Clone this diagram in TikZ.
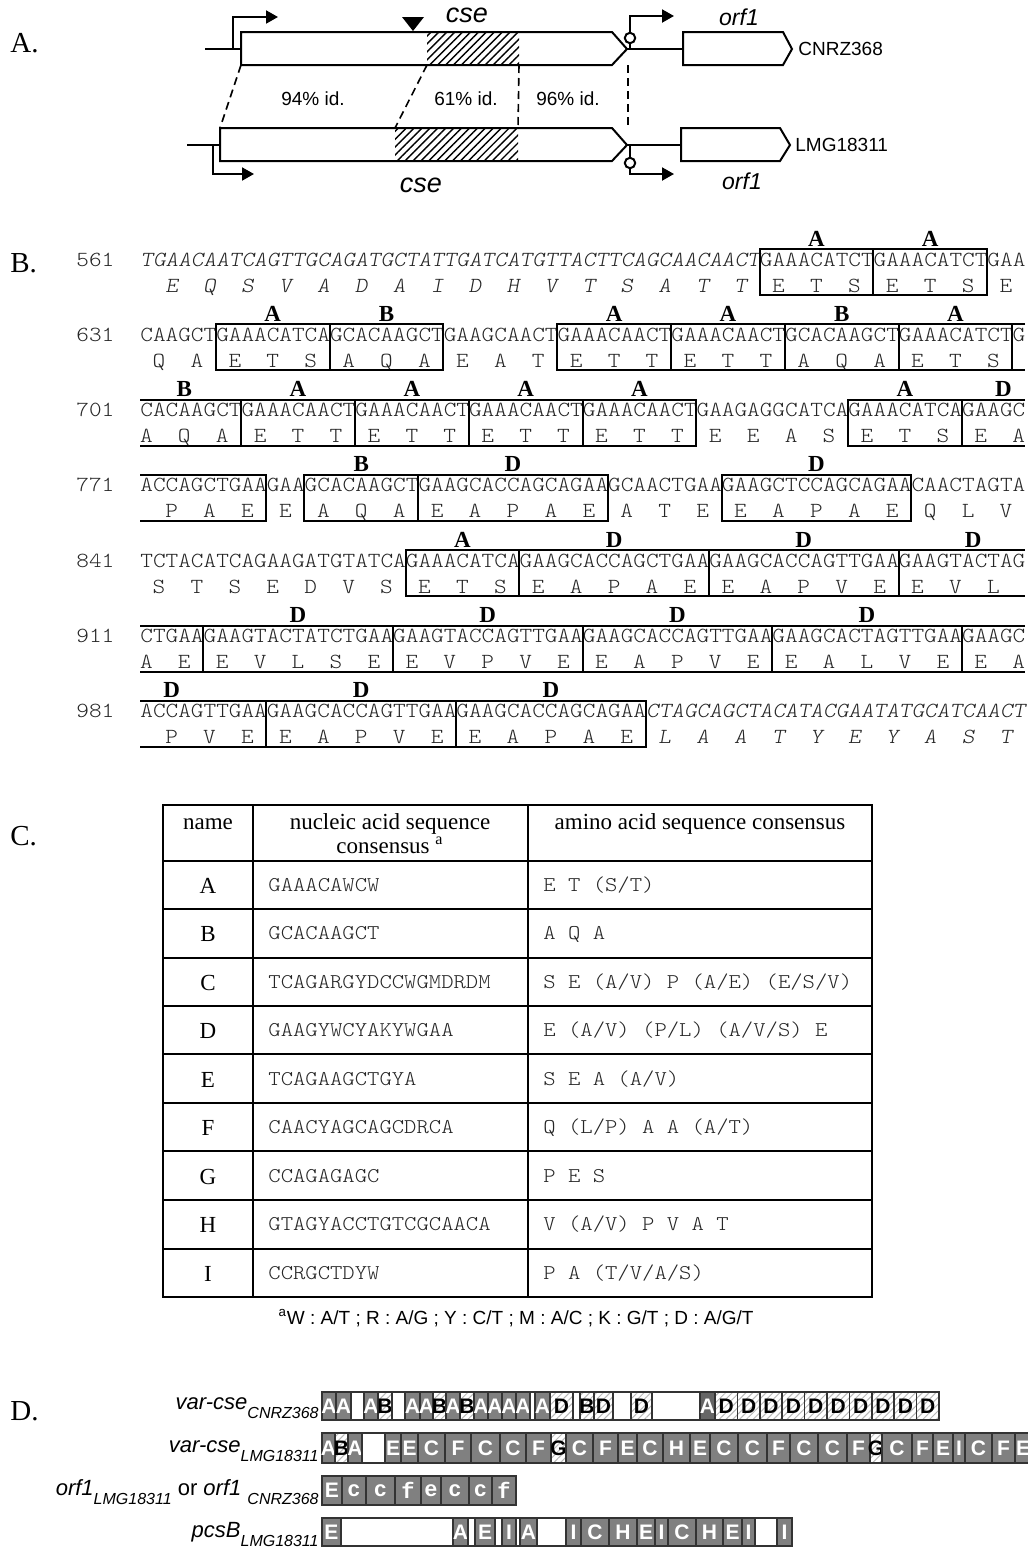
\documentclass[tikz,border=0pt]{standalone}
\usepackage{fontspec}
\setmainfont{Liberation Serif}
\setsansfont{Liberation Sans}
\setmonofont{Liberation Mono}
\newfontfamily\courfont{lmmonolt10-regular.otf}[FakeStretch=1.12,ItalicFont=lmmonolt10-oblique.otf]
\usetikzlibrary{arrows.meta,patterns.meta,calc,positioning}

\definecolor{barfill}{gray}{0.50}
\definecolor{bardark}{gray}{0.40}
\definecolor{barline}{gray}{0.20}
\definecolor{seqink}{gray}{0.15}

\newcommand\cw{12.643}
\newcommand\seqfont{\courfont\fontsize{10.75}{12}\selectfont}
\newcommand\subl[1]{\raisebox{-0.42em}{\fontsize{8}{9}\selectfont #1}}

\begin{document}
\begin{tikzpicture}[x=0.5pt,y=-0.5pt,
  gene/.style={line width=1pt},
  hatchA/.style={pattern={Lines[angle=45,distance=2.8pt,line width=0.7pt]}},
  homol/.style={line width=0.8pt,dash pattern=on 4pt off 2.5pt},
  idlab/.style={font=\sffamily\fontsize{9.5}{11}\selectfont},
  genelab/.style={font=\sffamily\itshape\fontsize{13.5}{15}\selectfont},
  orflab/.style={font=\sffamily\itshape\fontsize{11.5}{13}\selectfont},
  strain/.style={font=\sffamily\fontsize{9.5}{11}\selectfont,anchor=west,inner sep=0pt},
  panel/.style={font=\fontsize{14.5}{16}\selectfont,anchor=base west,inner sep=0pt},
  seqtxt/.style={font=\seqfont,text=seqink,anchor=base west,inner sep=0pt},
  seqit/.style={seqtxt,font=\seqfont\itshape},
  aa/.style={font=\seqfont,text=seqink,anchor=base,inner sep=0pt},
  aait/.style={aa,font=\seqfont\itshape},
  motif/.style={line width=1pt},
  motlab/.style={font=\bfseries\fontsize{11.5}{13}\selectfont,anchor=base,inner sep=0pt},
  tabline/.style={line width=1pt},
  head/.style={font=\fontsize{11.5}{13}\selectfont,anchor=base,inner sep=0pt},
  tabname/.style={font=\fontsize{11.5}{13}\selectfont,anchor=base,inner sep=0pt},
  tabmono/.style={font=\courfont\fontsize{10.5}{12}\selectfont,text=seqink,anchor=base west,inner sep=0pt},
  foot/.style={font=\sffamily\fontsize{9.5}{11}\selectfont},
  barlab/.style={font=\sffamily\itshape\fontsize{11}{13}\selectfont,anchor=base east,inner sep=0pt},
  bseg/.style={draw=barline,line width=0.8pt},
  grayseg/.style={bseg,fill=barfill,text=white},
  darkseg/.style={bseg,fill=bardark,text=white},
  hatchseg/.style={bseg,pattern={Lines[angle=45,distance=2.4pt,line width=0.5pt]},pattern color=gray!55,text=black},
  whiteseg/.style={bseg},
  bartxt/.style={font=\sffamily\bfseries\fontsize{10.5}{12}\selectfont,inner sep=0pt},
  monotxt/.style={font=\ttfamily\bfseries\fontsize{11}{12}\selectfont,inner sep=0pt,text=white}]

\fill[white] (0,0) rectangle (1028,1548);
\useasboundingbox (0,0) rectangle (1028,1548);

% ---------- A. gene maps
\node[panel] (pA) at (10,52) {A.};
% CNRZ368
\draw[gene] (205,49) -- (241,49);
\path[hatchA] (427,32) rectangle (519,65);
\draw[gene] (241,32) -- (612,32) -- (627,49) -- (612,65) -- (241,65) -- cycle;
\fill (402,17) -- (424,17) -- (413,31) -- cycle;
\draw[gene,-{Triangle[length=6pt,width=6.5pt]}] (233,49) -- (233,17) -- (278,17);
\draw[gene] (627,49) -- (683,49);
\draw[gene,-{Triangle[length=6pt,width=6.5pt]}] (630,49) -- (630,16) -- (674,16);
\draw[gene,fill=white] (630,38) circle[radius=2.6pt];
\draw[gene] (683,32) -- (783,32) -- (792,49) -- (783,65) -- (683,65) -- cycle;
\node[genelab] (cseT) at (467,15) {cse};
\node[orflab] (orfT) at (739,17) {orf1};
\node[strain] (strT) at (798,49) {CNRZ368};
% LMG18311
\draw[gene] (187,145) -- (220,145);
\path[hatchA] (395,128) rectangle (518,161);
\draw[gene] (220,128) -- (612,128) -- (627,145) -- (612,161) -- (220,161) -- cycle;
\draw[gene,-{Triangle[length=6pt,width=6.5pt]}] (213,145) -- (213,174) -- (254,174);
\draw[gene] (627,145) -- (681,145);
\draw[gene,-{Triangle[length=6pt,width=6.5pt]}] (630,145) -- (630,174) -- (674,174);
\draw[gene,fill=white] (630,163) circle[radius=2.6pt];
\draw[gene] (681,128) -- (780,128) -- (790,145) -- (780,161) -- (681,161) -- cycle;
\node[genelab] (cseB) at (421,185) {cse};
\node[orflab] (orfB) at (742,181) {orf1};
\node[strain] (strB) at (795,145) {LMG18311};
% identity
\draw[homol] (241,65) -- (220,128);
\draw[homol] (427,65) -- (395,128);
\draw[homol] (519,65) -- (518,128);
\draw[homol] (628,65) -- (628,128);
\node[idlab] (id1) at (313,99) {94\% id.};
\node[idlab] (id2) at (466,99) {61\% id.};
\node[idlab] (id3) at (568,99) {96\% id.};

% ---------- B. sequence
\node[panel] (pB) at (10,272) {B.};
\foreach \r/\n in {0/561,1/631,2/701,3/771,4/841,5/911,6/981}
  \node[seqtxt] (num\n) at (76,{266+75.3*\r}) {\n};
\node[seqit] (seq0a) at (140,266) {TGAACAATCAGTTGCAGATGCTATTGATCATGTTACTTCAGCAACAACT};
\node[seqtxt] (seq0b) at ({140+49*\cw},266) {GAAACATCTGAAACATCTGAA};
\foreach \r/\s in {1/CAAGCTGAAACATCAGCACAAGCTGAAGCAACTGAAACAACTGAAACAACTGCACAAGCTGAAACATCTG,
                   2/CACAAGCTGAAACAACTGAAACAACTGAAACAACTGAAACAACTGAAGAGGCATCAGAAACATCAGAAGC,
                   3/ACCAGCTGAAGAAGCACAAGCTGAAGCACCAGCAGAAGCAACTGAAGAAGCTCCAGCAGAACAACTAGTA,
                   4/TCTACATCAGAAGATGTATCAGAAACATCAGAAGCACCAGCTGAAGAAGCACCAGTTGAAGAAGTACTAG,
                   5/CTGAAGAAGTACTATCTGAAGAAGTACCAGTTGAAGAAGCACCAGTTGAAGAAGCACTAGTTGAAGAAGC}
  \node[seqtxt] (seq\r) at (140,{266+75.3*\r}) {\s};
\node[seqtxt] (seq6a) at (140,{266+75.3*6}) {ACCAGTTGAAGAAGCACCAGTTGAAGAAGCACCAGCAGAA};
\node[seqit] (seq6b) at ({140+40*\cw},{266+75.3*6}) {CTAGCAGCTACATACGAATATGCATCAACT};
% translation
\foreach \r/\s/\f/\lst in {0/2/aait/{E,Q,S,V,A,D,A,I,D,H,V,T,S,A,T,T},
    0/50/aa/{E,T,S,E,T,S,E},
    1/1/aa/{Q,A,E,T,S,A,Q,A,E,A,T,E,T,T,E,T,T,A,Q,A,E,T,S},
    2/0/aa/{A,Q,A,E,T,T,E,T,T,E,T,T,E,T,T,E,E,A,S,E,T,S,E,A},
    3/2/aa/{P,A,E,E,A,Q,A,E,A,P,A,E,A,T,E,E,A,P,A,E,Q,L,V},
    4/1/aa/{S,T,S,E,D,V,S,E,T,S,E,A,P,A,E,E,A,P,V,E,E,V,L},
    5/0/aa/{A,E,E,V,L,S,E,E,V,P,V,E,E,A,P,V,E,E,A,L,V,E,E,A},
    6/2/aa/{P,V,E,E,A,P,V,E,E,A,P,A,E},
    6/41/aait/{L,A,A,T,Y,E,Y,A,S,T}}
  \foreach \l [count=\i from 0] in \lst
    \node[\f] (aa\r-\s-\i) at ({140+(\s+3*\i+0.5)*\cw},{292+75.3*\r}) {\l};
% repeat boxes
\foreach \r/\a/\b in {0/49/58,0/58/67,1/6/15,1/15/24,1/33/42,1/42/51,1/51/60,1/60/69,
    2/8/17,2/17/26,2/26/35,2/35/44,2/56/65,3/13/22,3/22/37,3/46/61,
    4/21/30,4/30/45,4/45/60,5/5/20,5/20/35,5/35/50,5/50/65,6/10/25,6/25/40}
  \draw[motif] ({140+\a*\cw},{249+75.3*\r}) rectangle ({140+\b*\cw},{295+75.3*\r});
\foreach \r/\b in {2/8,3/10,5/5,6/10}
  \draw[motif] (140,{249+75.3*\r}) -- ({140+\b*\cw},{249+75.3*\r})
    -- ({140+\b*\cw},{295+75.3*\r}) -- (140,{295+75.3*\r});
\foreach \r/\a in {1/69,2/65,4/60,5/65}
  \draw[motif] (1025,{249+75.3*\r}) -- ({140+\a*\cw},{249+75.3*\r})
    -- ({140+\a*\cw},{295+75.3*\r}) -- (1025,{295+75.3*\r});
\foreach \r/\p/\m [count=\k] in {0/53.5/A,0/62.5/A,
    1/10.5/A,1/19.5/B,1/37.5/A,1/46.5/A,1/55.5/B,1/64.5/A,
    2/3.5/B,2/12.5/A,2/21.5/A,2/30.5/A,2/39.5/A,2/60.5/A,2/68.3/D,
    3/17.5/B,3/29.5/D,3/53.5/D,
    4/25.5/A,4/37.5/D,4/52.5/D,4/65.9/D,
    5/12.5/D,5/27.5/D,5/42.5/D,5/57.5/D,
    6/2.5/D,6/17.5/D,6/32.5/D}
  \node[motlab] (mot\k) at ({140+\p*\cw},{246+75.3*\r}) {\m};

% ---------- C. consensus table
\node[panel] (pC) at (10,845) {C.};
\draw[tabline] (163,805) rectangle (872,1297);
\foreach \y in {861,909,958,1006,1054,1103,1151,1200,1249}
  \draw[tabline] (163,\y) -- (872,\y);
\foreach \x in {253,528}
  \draw[tabline] (\x,805) -- (\x,1297);
\node[head] (hName) at (208,829) {name};
\node[head] (hNuc1) at (390,829) {nucleic acid sequence};
\node[head] (hNuc2) at (390,853) {consensus \textsuperscript{a}};
\node[head] (hAmi) at (700,829) {amino acid sequence consensus};
\foreach \n/\nuc/\ami [count=\i from 0] in {A/GAAACAWCW/{E T (S/T)},
    B/GCACAAGCT/{A Q A},
    C/TCAGARGYDCCWGMDRDM/{S E (A/V) P (A/E) (E/S/V)},
    D/GAAGYWCYAKYWGAA/{E (A/V) (P/L) (A/V/S) E},
    E/TCAGAAGCTGYA/{S E A (A/V)},
    F/CAACYAGCAGCDRCA/{Q (L/P) A A (A/T)},
    G/CCAGAGAGC/{P E S},
    H/GTAGYACCTGTCGCAACA/{V (A/V) P V A T},
    I/CCRGCTDYW/{P A (T/V/A/S)}}
{
  \node[tabname] (nm\n) at (208,{893+48.5*\i}) {\n};
  \node[tabmono] (nuc\n) at (268,{891+48.5*\i}) {\nuc};
  \node[tabmono] (ami\n) at (543,{891+48.5*\i}) {\ami};
}
\node[foot] (fn) at (516,1318) {\textsuperscript{a}W : A/T ; R : A/G ; Y : C/T ; M : A/C ; K : G/T ; D : A/G/T};

% ---------- D. repeat organisation
\node[panel] (pD) at (10,1420) {D.};
\node[barlab] (labVC) at (319,1409) {var-cse\subl{CNRZ368}};
\node[barlab] (labVL) at (319,1452) {var-cse\subl{LMG18311}};
\node[barlab] (labOR) at (319,1495) {orf1\subl{LMG18311} {\upshape or} orf1 \subl{CNRZ368}};
\node[barlab] (labPC) at (319,1537) {pcsB\subl{LMG18311}};
% var-cse CNRZ368
\foreach \a/\b/\t/\l in {322/336/grayseg/A,336/351/grayseg/A,351/364/whiteseg/{},
    364/378/grayseg/A,378/392/hatchseg/B,392/405/whiteseg/{},405/420/grayseg/A,
    420/433/grayseg/A,433/446/hatchseg/B,446/460/grayseg/A,460/474/hatchseg/B,
    474/488/grayseg/A,488/502/grayseg/A,502/516/grayseg/A,516/530/grayseg/A,
    530/535/whiteseg/{},535/550/grayseg/A,550/573/hatchseg/D,573/580/whiteseg/{},
    580/594/hatchseg/B,594/613/hatchseg/D,613/631/whiteseg/{},631/652/hatchseg/D,
    652/700/whiteseg/{},700/715/darkseg/A}
  \draw[\t] (\a,1392) rectangle (\b,1420) node[bartxt] (c1-\a) at ({(\a+\b)/2},1406) {\l};
\foreach \i in {0,...,9}
  \draw[hatchseg] ({715+22.4*\i},1392) rectangle ({737.4+22.4*\i},1420)
    node[bartxt] (c1d-\i) at ({726.2+22.4*\i},1406) {D};
% var-cse LMG18311
\begin{scope}
\clip (300,1420) rectangle (1028,1476);
\foreach \a/\b/\t/\l in {322/335/grayseg/A,335/348/hatchseg/B,348/362/grayseg/A,
    362/385/whiteseg/{},385/401/grayseg/E,401/418/grayseg/E,418/445/grayseg/C,
    445/471/grayseg/F,471/500/grayseg/C,500/526/grayseg/C,526/551/grayseg/F,
    551/566/hatchseg/G,566/593/grayseg/C,593/618/grayseg/F,618/637/grayseg/E,
    637/663/grayseg/C,663/690/grayseg/H,690/710/grayseg/E,710/738/grayseg/C,
    738/767/grayseg/C,767/790/grayseg/F,790/818/grayseg/C,818/847/grayseg/C,
    847/870/grayseg/F,870/882/hatchseg/G,882/912/grayseg/C,912/933/grayseg/F,
    933/953/grayseg/E,953/965/grayseg/I,965/992/grayseg/C,992/1015/grayseg/F,
    1015/1031/grayseg/E}
  \draw[\t] (\a,1433) rectangle (\b,1463) node[bartxt] (c2-\a) at ({(\a+\b)/2},1448) {\l};
\end{scope}
% orf1
\draw[grayseg] (322,1476) rectangle (342,1505) node[bartxt] (c3-322) at (332,1490.5) {E};
\foreach \a/\b/\l in {342/366/c,366/395/c,395/421/f,421/441/e,441/469/c,469/492/c,492/516/f}
  \draw[grayseg] (\a,1476) rectangle (\b,1505) node[monotxt] (c3-\a) at ({(\a+\b)/2},1490.5) {\l};
% pcsB
\foreach \a/\b/\t/\l in {322/341/grayseg/E,341/453/whiteseg/{},453/468/grayseg/A,
    468/475/whiteseg/{},475/495/grayseg/E,495/502/whiteseg/{},502/516/grayseg/I,
    516/520/whiteseg/{},520/537/grayseg/A,537/566/whiteseg/{},566/581/grayseg/I,
    581/609/grayseg/C,609/637/grayseg/H,637/655/grayseg/E,655/668/grayseg/I,
    668/696/grayseg/C,696/723/grayseg/H,723/742/grayseg/E,742/755/grayseg/I,
    755/777/whiteseg/{},777/792/grayseg/I}
  \draw[\t] (\a,1518) rectangle (\b,1546) node[bartxt] (c4-\a) at ({(\a+\b)/2},1532) {\l};
\end{tikzpicture}
\end{document}
